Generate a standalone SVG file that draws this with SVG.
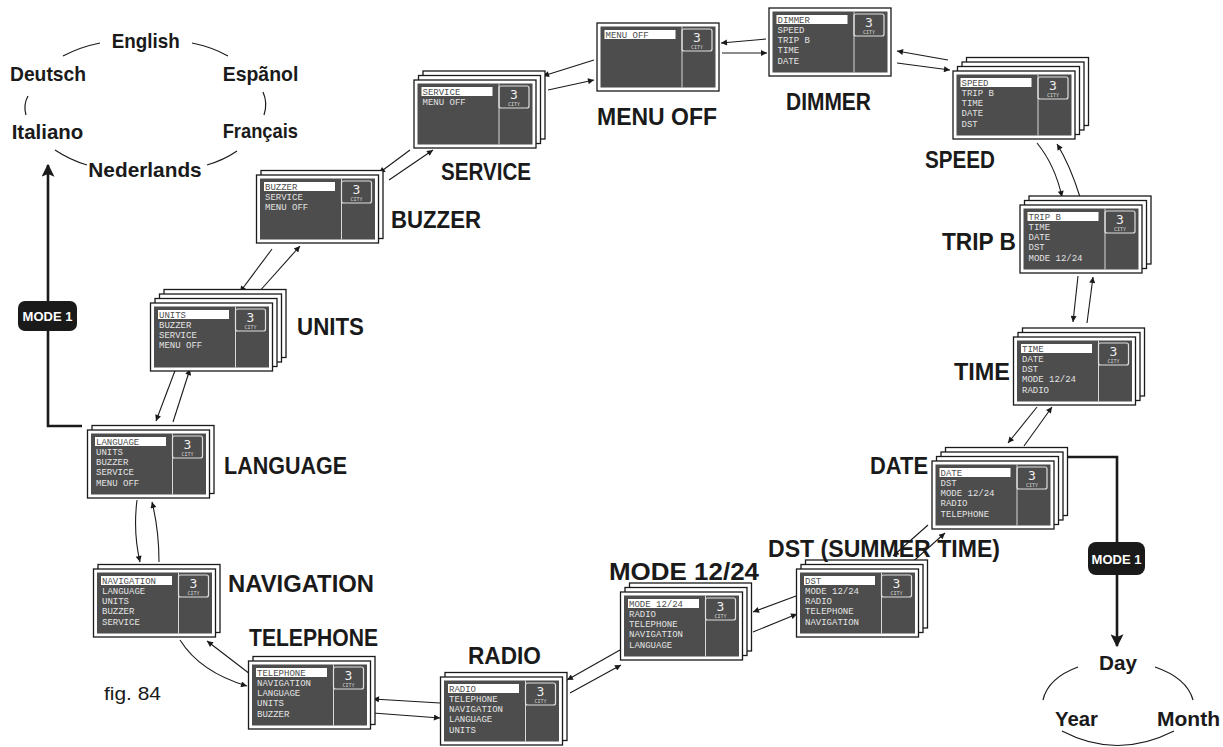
<svg xmlns="http://www.w3.org/2000/svg" xmlns:xlink="http://www.w3.org/1999/xlink" width="1223" height="747" viewBox="0 0 1223 747">
<style>
.card{fill:#fff;stroke:#1a1a1a;stroke-width:1.3}
.scr{fill:#4d4d4d}
.hl{fill:#fff}
.st{font-family:"Liberation Mono","DejaVu Sans Mono",monospace;font-size:9px;fill:#e4e4e4}
.sel{fill:#4d4d4d}
.three{font-family:"DejaVu Sans Mono",monospace;font-size:13px;fill:#eee;text-anchor:middle}
.city{font-family:"DejaVu Sans Mono",monospace;font-size:5px;fill:#ddd;text-anchor:middle}
.lbl{font-family:"Liberation Sans Narrow","Liberation Sans",sans-serif;font-weight:bold;font-size:23px;fill:#1a1a1a}
.lng{font-family:"Liberation Sans Narrow","Liberation Sans",sans-serif;font-weight:bold;font-size:21px;fill:#1a1a1a}
.conn{fill:none;stroke:#1a1a1a;stroke-width:1.1;marker-end:url(#ah)}
.arc{fill:none;stroke:#1a1a1a;stroke-width:1.2}
.thick{fill:none;stroke:#1a1a1a;stroke-width:2.6}
.mbox{fill:#1a1a1a}
.mtxt{font-family:"Liberation Sans Narrow","Liberation Sans",sans-serif;font-weight:bold;font-size:13px;fill:#fff;text-anchor:middle}
</style>
<defs>
<marker id="ah" viewBox="0 0 10 10" refX="10" refY="5" markerWidth="9" markerHeight="6" markerUnits="userSpaceOnUse" orient="auto"><path d="M0,0 L10,5 L0,10 z" fill="#1a1a1a"/></marker>
<marker id="big" viewBox="0 0 10 10" refX="9" refY="5" markerWidth="24" markerHeight="13" markerUnits="userSpaceOnUse" orient="auto"><path d="M0,0 L10,5 L0,10 L2,5 z" fill="#1a1a1a"/></marker>
<g id="chrome">
<rect class="card" x="0" y="0" width="122" height="68"/>
<rect class="scr" x="3.5" y="3.5" width="115" height="61"/>
<line x1="85" y1="3.5" x2="85" y2="64.5" stroke="#d8d8d8" stroke-width="1"/>
<rect x="85" y="6" width="30" height="22" rx="2" fill="none" stroke="#e0e0e0" stroke-width="1.2"/>
<text x="100" y="19" class="three">3</text>
<text x="100" y="25.5" class="city">CITY</text>
</g>
<rect id="bk" class="card" x="0" y="0" width="122" height="68"/>
</defs>
<rect width="1223" height="747" fill="#fff"/>

<g id="connectors">
<path class="conn" d="M176,368 L156,421"/>
<path class="conn" d="M173,422 L190,369"/>
<path class="conn" d="M272,249 L240,292"/>
<path class="conn" d="M258,293 L300,246"/>
<path class="conn" d="M410,150 L379,173"/>
<path class="conn" d="M389,180 L433,150"/>
<path class="conn" d="M594,60 L543,76"/>
<path class="conn" d="M548,90 L594,80"/>
<path class="conn" d="M766,39 L721,43"/>
<path class="conn" d="M722,53 L767,53"/>
<path class="conn" d="M948,60 L897,51"/>
<path class="conn" d="M897,63 L950,70"/>
<path class="conn" d="M1037,143 Q1055,165 1062,197"/>
<path class="conn" d="M1080,197 Q1070,165 1057,144"/>
<path class="conn" d="M1078,276 L1073,322"/>
<path class="conn" d="M1087,323 L1093,277"/>
<path class="conn" d="M1037,407 L1008,443"/>
<path class="conn" d="M1024,446 L1052,407"/>
<path class="conn" d="M928,525 L893,556"/>
<path class="conn" d="M908,566 L945,533"/>
<path class="conn" d="M796,596 L753,612"/>
<path class="conn" d="M753,632 L797,614"/>
<path class="conn" d="M620,650 L567,680"/>
<path class="conn" d="M570,693 L621,665"/>
<path class="conn" d="M440,703 L373,699"/>
<path class="conn" d="M373,713 L440,718"/>
<path class="conn" d="M250,674 L207,641"/>
<path class="conn" d="M180,640 Q200,672 247,686"/>
<path class="conn" d="M137,500 Q133,532 140,562"/>
<path class="conn" d="M159,562 Q159,530 152,502"/>
<path class="thick" d="M82,426 H48 V165" marker-end="url(#big)"/>
<path class="thick" d="M1068,457 H1117 V646" marker-end="url(#big)"/>
</g>

<g id="mode1-left"><rect class="mbox" x="18" y="301" width="59" height="30" rx="7"/><text class="mtxt" x="47.5" y="321">MODE 1</text></g>
<g id="mode1-right"><rect class="mbox" x="1088" y="542" width="57" height="33" rx="8"/><text class="mtxt" x="1116.5" y="563.5">MODE 1</text></g>

<g id="languages">
<text class="lng" x="111.7" y="47.5" textLength="68" lengthAdjust="spacingAndGlyphs">English</text>
<text class="lng" x="10" y="81" textLength="76" lengthAdjust="spacingAndGlyphs">Deutsch</text>
<text class="lng" x="222.7" y="81" textLength="75.6" lengthAdjust="spacingAndGlyphs">Espãnol</text>
<text class="lng" x="11.7" y="139" textLength="71.6" lengthAdjust="spacingAndGlyphs">Italiano</text>
<text class="lng" x="222.7" y="138" textLength="75.3" lengthAdjust="spacingAndGlyphs">Français</text>
<text class="lng" x="88.3" y="176.5" textLength="113.4" lengthAdjust="spacingAndGlyphs">Nederlands</text>
<path class="arc" d="M63,56 Q80,47 100,43"/>
<path class="arc" d="M192,43 Q212,47 228,56"/>
<path class="arc" d="M28,96 Q23,105 26,115"/>
<path class="arc" d="M263,92 Q268,103 264,115"/>
<path class="arc" d="M55,150 Q70,160 87,165"/>
<path class="arc" d="M207,165 Q224,160 237,151"/>
</g>

<g id="dates">
<text class="lng" x="1099" y="670" textLength="38" lengthAdjust="spacingAndGlyphs">Day</text>
<text class="lng" x="1055" y="726" textLength="43" lengthAdjust="spacingAndGlyphs">Year</text>
<text class="lng" x="1157" y="726" textLength="63" lengthAdjust="spacingAndGlyphs">Month</text>
<path class="arc" d="M1078,667 Q1048,678 1043,700"/>
<path class="arc" d="M1155,667 Q1187,678 1193,700"/>
<path class="arc" d="M1062,731 Q1117,760 1174,731"/>
</g>

<text x="104" y="700" font-family="'Liberation Sans Narrow','Liberation Sans',sans-serif" font-size="19" fill="#1a1a1a" textLength="57" lengthAdjust="spacingAndGlyphs">fig. 84</text>

<g id="scr-language" transform="translate(87.5,430)">
<use href="#bk" x="4.5" y="-4.5"/><use href="#chrome"/>
<rect class="hl" x="7.5" y="7" width="71" height="9"/>
<text class="st sel" x="8.5" y="14.5">LANGUAGE</text><text class="st" x="8.5" y="24.8">UNITS</text><text class="st" x="8.5" y="35.1">BUZZER</text><text class="st" x="8.5" y="45.4">SERVICE</text><text class="st" x="8.5" y="55.7">MENU OFF</text>
</g>
<text class="lbl" x="224" y="474" textLength="123" lengthAdjust="spacingAndGlyphs">LANGUAGE</text>

<g id="scr-units" transform="translate(150.5,303)">
<use href="#bk" x="13.5" y="-13.5"/><use href="#bk" x="9" y="-9"/><use href="#bk" x="4.5" y="-4.5"/><use href="#chrome"/>
<rect class="hl" x="7.5" y="7" width="71" height="9"/>
<text class="st sel" x="8.5" y="14.5">UNITS</text><text class="st" x="8.5" y="24.8">BUZZER</text><text class="st" x="8.5" y="35.1">SERVICE</text><text class="st" x="8.5" y="45.4">MENU OFF</text>
</g>
<text class="lbl" x="297" y="335" textLength="67" lengthAdjust="spacingAndGlyphs">UNITS</text>

<g id="scr-buzzer" transform="translate(256.5,175)">
<use href="#bk" x="4.5" y="-4.5"/><use href="#chrome"/>
<rect class="hl" x="7.5" y="7" width="71" height="9"/>
<text class="st sel" x="8.5" y="14.5">BUZZER</text><text class="st" x="8.5" y="24.8">SERVICE</text><text class="st" x="8.5" y="35.1">MENU OFF</text>
</g>
<text class="lbl" x="391" y="228" textLength="90" lengthAdjust="spacingAndGlyphs">BUZZER</text>

<g id="scr-service" transform="translate(414,80)">
<use href="#bk" x="9" y="-9"/><use href="#bk" x="4.5" y="-4.5"/><use href="#chrome"/>
<rect class="hl" x="7.5" y="7" width="71" height="9"/>
<text class="st sel" x="8.5" y="14.5">SERVICE</text><text class="st" x="8.5" y="24.8">MENU OFF</text>
</g>
<text class="lbl" x="441" y="180" textLength="90" lengthAdjust="spacingAndGlyphs">SERVICE</text>

<g id="scr-menuoff" transform="translate(597,23)">
<use href="#chrome"/>
<rect class="hl" x="7.5" y="7" width="71" height="9"/>
<text class="st sel" x="8.5" y="14.5">MENU OFF</text>
</g>
<text class="lbl" x="597" y="125" textLength="120" lengthAdjust="spacingAndGlyphs">MENU OFF</text>

<g id="scr-dimmer" transform="translate(769,8)">
<use href="#chrome"/>
<rect class="hl" x="7.5" y="7" width="71" height="9"/>
<text class="st sel" x="8.5" y="14.5">DIMMER</text><text class="st" x="8.5" y="24.8">SPEED</text><text class="st" x="8.5" y="35.1">TRIP B</text><text class="st" x="8.5" y="45.4">TIME</text><text class="st" x="8.5" y="55.7">DATE</text>
</g>
<text class="lbl" x="786" y="110" textLength="85" lengthAdjust="spacingAndGlyphs">DIMMER</text>

<g id="scr-speed" transform="translate(953,71)">
<use href="#bk" x="13.5" y="-13.5"/><use href="#bk" x="9" y="-9"/><use href="#bk" x="4.5" y="-4.5"/><use href="#chrome"/>
<rect class="hl" x="7.5" y="7" width="71" height="9"/>
<text class="st sel" x="8.5" y="14.5">SPEED</text><text class="st" x="8.5" y="24.8">TRIP B</text><text class="st" x="8.5" y="35.1">TIME</text><text class="st" x="8.5" y="45.4">DATE</text><text class="st" x="8.5" y="55.7">DST</text>
</g>
<text class="lbl" x="925" y="168" textLength="70" lengthAdjust="spacingAndGlyphs">SPEED</text>

<g id="scr-tripb" transform="translate(1020,205)">
<use href="#bk" x="9" y="-9"/><use href="#bk" x="4.5" y="-4.5"/><use href="#chrome"/>
<rect class="hl" x="7.5" y="7" width="71" height="9"/>
<text class="st sel" x="8.5" y="14.5">TRIP B</text><text class="st" x="8.5" y="24.8">TIME</text><text class="st" x="8.5" y="35.1">DATE</text><text class="st" x="8.5" y="45.4">DST</text><text class="st" x="8.5" y="55.7">MODE 12/24</text>
</g>
<text class="lbl" x="942" y="250" textLength="74" lengthAdjust="spacingAndGlyphs">TRIP B</text>

<g id="scr-time" transform="translate(1013.5,337)">
<use href="#bk" x="9" y="-9"/><use href="#bk" x="4.5" y="-4.5"/><use href="#chrome"/>
<rect class="hl" x="7.5" y="7" width="71" height="9"/>
<text class="st sel" x="8.5" y="14.5">TIME</text><text class="st" x="8.5" y="24.8">DATE</text><text class="st" x="8.5" y="35.1">DST</text><text class="st" x="8.5" y="45.4">MODE 12/24</text><text class="st" x="8.5" y="55.7">RADIO</text>
</g>
<text class="lbl" x="954" y="380" textLength="56" lengthAdjust="spacingAndGlyphs">TIME</text>

<g id="scr-date" transform="translate(932,461)">
<use href="#bk" x="13.5" y="-13.5"/><use href="#bk" x="9" y="-9"/><use href="#bk" x="4.5" y="-4.5"/><use href="#chrome"/>
<rect class="hl" x="7.5" y="7" width="71" height="9"/>
<text class="st sel" x="8.5" y="14.5">DATE</text><text class="st" x="8.5" y="24.8">DST</text><text class="st" x="8.5" y="35.1">MODE 12/24</text><text class="st" x="8.5" y="45.4">RADIO</text><text class="st" x="8.5" y="55.7">TELEPHONE</text>
</g>
<text class="lbl" x="870" y="474" textLength="58" lengthAdjust="spacingAndGlyphs">DATE</text>

<g id="scr-dst" transform="translate(796.5,569)">
<use href="#bk" x="9" y="-9"/><use href="#bk" x="4.5" y="-4.5"/><use href="#chrome"/>
<rect class="hl" x="7.5" y="7" width="71" height="9"/>
<text class="st sel" x="8.5" y="14.5">DST</text><text class="st" x="8.5" y="24.8">MODE 12/24</text><text class="st" x="8.5" y="35.1">RADIO</text><text class="st" x="8.5" y="45.4">TELEPHONE</text><text class="st" x="8.5" y="55.7">NAVIGATION</text>
</g>
<text class="lbl" x="768" y="557" textLength="232" lengthAdjust="spacingAndGlyphs">DST (SUMMER TIME)</text>

<g id="scr-mode1224" transform="translate(620.5,592)">
<use href="#bk" x="9" y="-9"/><use href="#bk" x="4.5" y="-4.5"/><use href="#chrome"/>
<rect class="hl" x="7.5" y="7" width="71" height="9"/>
<text class="st sel" x="8.5" y="14.5">MODE 12/24</text><text class="st" x="8.5" y="24.8">RADIO</text><text class="st" x="8.5" y="35.1">TELEPHONE</text><text class="st" x="8.5" y="45.4">NAVIGATION</text><text class="st" x="8.5" y="55.7">LANGUAGE</text>
</g>
<text class="lbl" x="609" y="580" textLength="150" lengthAdjust="spacingAndGlyphs">MODE 12/24</text>

<g id="scr-radio" transform="translate(440.5,677)">
<use href="#bk" x="4.5" y="-4.5"/><use href="#chrome"/>
<rect class="hl" x="7.5" y="7" width="71" height="9"/>
<text class="st sel" x="8.5" y="14.5">RADIO</text><text class="st" x="8.5" y="24.8">TELEPHONE</text><text class="st" x="8.5" y="35.1">NAVIGATION</text><text class="st" x="8.5" y="45.4">LANGUAGE</text><text class="st" x="8.5" y="55.7">UNITS</text>
</g>
<text class="lbl" x="468" y="664" textLength="73" lengthAdjust="spacingAndGlyphs">RADIO</text>

<g id="scr-telephone" transform="translate(248.5,661)">
<use href="#bk" x="4.5" y="-4.5"/><use href="#chrome"/>
<rect class="hl" x="7.5" y="7" width="71" height="9"/>
<text class="st sel" x="8.5" y="14.5">TELEPHONE</text><text class="st" x="8.5" y="24.8">NAVIGATION</text><text class="st" x="8.5" y="35.1">LANGUAGE</text><text class="st" x="8.5" y="45.4">UNITS</text><text class="st" x="8.5" y="55.7">BUZZER</text>
</g>
<text class="lbl" x="249" y="646" textLength="129" lengthAdjust="spacingAndGlyphs">TELEPHONE</text>

<g id="scr-navigation" transform="translate(93.5,569)">
<use href="#bk" x="4.5" y="-4.5"/><use href="#chrome"/>
<rect class="hl" x="7.5" y="7" width="71" height="9"/>
<text class="st sel" x="8.5" y="14.5">NAVIGATION</text><text class="st" x="8.5" y="24.8">LANGUAGE</text><text class="st" x="8.5" y="35.1">UNITS</text><text class="st" x="8.5" y="45.4">BUZZER</text><text class="st" x="8.5" y="55.7">SERVICE</text>
</g>
<text class="lbl" x="228" y="592" textLength="146" lengthAdjust="spacingAndGlyphs">NAVIGATION</text>
</svg>
